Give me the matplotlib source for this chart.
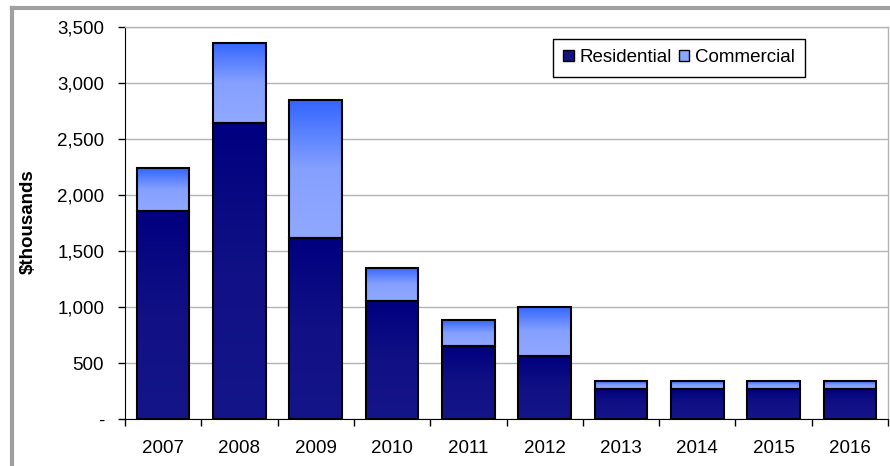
import numpy as np
import matplotlib
matplotlib.use("Agg")
import matplotlib.pyplot as plt
from matplotlib.patches import Rectangle, Patch
from matplotlib.colors import LinearSegmentedColormap
from matplotlib.ticker import FuncFormatter, FixedLocator

plt.rcParams["font.family"] = ["Liberation Sans", "DejaVu Sans"]

years = ["2007", "2008", "2009", "2010", "2011", "2012", "2013", "2014", "2015", "2016"]
residential = [1860, 2640, 1620, 1050, 650, 560, 270, 270, 270, 270]
commercial = [380, 720, 1230, 300, 230, 440, 70, 70, 70, 70]

res_cmap = LinearSegmentedColormap.from_list("res", ["#15158a", "#111185", "#000080"])
com_cmap = LinearSegmentedColormap.from_list("com", ["#90a8ff", "#85a0ff", "#3366ff"])
grad = np.linspace(0, 1, 256).reshape(-1, 1)

fig = plt.figure(figsize=(8.9, 4.66), dpi=100)
ax = fig.add_axes([125 / 890, 1 - 419 / 466, 763 / 890, 392 / 466])

width = 0.69
x = np.arange(len(years))

for xi, r, c in zip(x, residential, commercial):
    x0, x1 = xi - width / 2, xi + width / 2
    segs = [(0, r, res_cmap), (r, r + c, com_cmap)]
    for lo, hi, cmap in segs:
        ax.imshow(grad, cmap=cmap, aspect="auto", origin="lower",
                  extent=(x0, x1, lo, hi), zorder=2, interpolation="bilinear")
        ax.add_patch(Rectangle((x0, lo), width, hi - lo, facecolor="none",
                               edgecolor="black", linewidth=1.5, zorder=3))
ax.set_xlim(-0.5, len(years) - 0.5)
ax.set_ylim(0, 3500)

ax.set_yticks(np.arange(0, 3501, 500))
ax.yaxis.set_major_formatter(FuncFormatter(lambda v, p: "-" if v == 0 else f"{int(v):,}"))
ax.grid(axis="y", color="#b4b4b4", linewidth=1.0, zorder=0)
ax.set_axisbelow(True)

ax.set_xticks(x)
ax.set_xticklabels(years)
ax.xaxis.set_minor_locator(FixedLocator(np.arange(-0.5, len(years), 1.0)))
ax.tick_params(axis="x", which="major", length=0, pad=15, labelsize=13.5)
ax.tick_params(axis="x", which="minor", length=5, width=1, color="black", direction="out")
ax.tick_params(axis="y", length=5, width=1, direction="out", pad=10, labelsize=13.5)

for side in ("top", "right"):
    ax.spines[side].set_color("#b4b4b4")
    ax.spines[side].set_linewidth(1.0)
ax.spines["left"].set_color("black")
ax.spines["bottom"].set_color("black")

fig.text(28 / 890, 1 - 222 / 466, "$thousands", rotation=90, fontsize=13.5,
         fontweight="bold", ha="center", va="center")

handles = [Patch(facecolor="#141480", edgecolor="black", linewidth=1, label="Residential"),
           Patch(facecolor="#88a8ff", edgecolor="black", linewidth=1, label="Commercial")]
fig.legend(handles=handles, loc="upper left", bbox_to_anchor=(553 / 890, 1 - 39 / 466),
           ncol=2, frameon=True, fontsize=13.5, handlelength=0.55, handleheight=0.55,
           handletextpad=0.3, columnspacing=0.4, borderpad=0.55, borderaxespad=0,
           fancybox=False, edgecolor="black", framealpha=1)

# outer chart border
fig.add_artist(plt.Line2D([12 / 890, 12 / 890], [0, 1 - 8 / 466], transform=fig.transFigure,
                          color="#a0a0a0", linewidth=3))
fig.add_artist(plt.Line2D([12 / 890, 1], [1 - 8 / 466, 1 - 8 / 466], transform=fig.transFigure,
                          color="#a0a0a0", linewidth=3))

fig.savefig("out.png", dpi=100)
